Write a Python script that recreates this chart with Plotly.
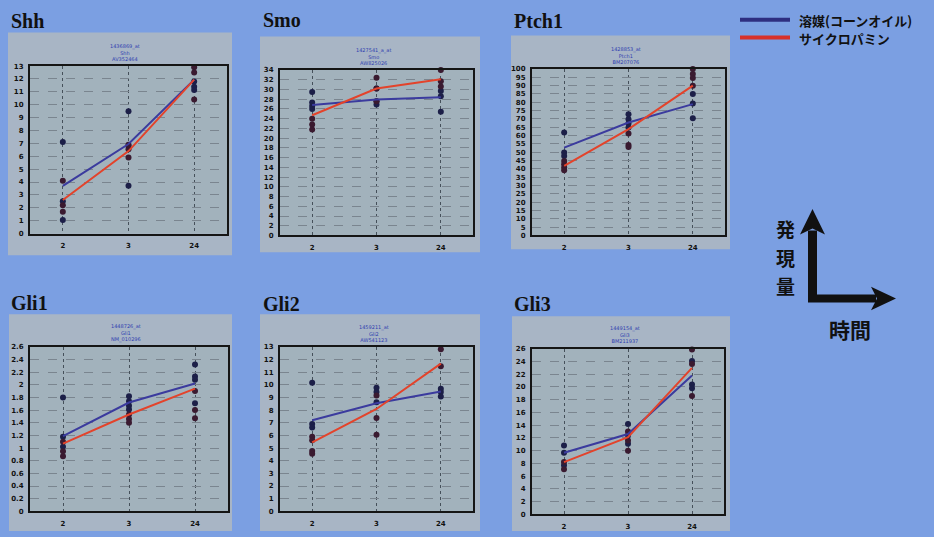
import plotly.graph_objects as go

W, H = 934, 537

# ---------------- data ----------------
TIMES = ["2", "3", "24"]

GENES = ["Shh", "Smo", "Ptch1", "Gli1", "Gli2", "Gli3"]
PROBES = [
    "1436869_at<br>Shh<br>AV352464",
    "1427541_a_at<br>Smo<br>AW825026",
    "1428853_at<br>Ptch1<br>BM207076",
    "1448726_at<br>Gli1<br>NM_010296",
    "1459211_at<br>Gli2<br>AW541123",
    "1449154_at<br>Gli3<br>BM211937",
]

# group means (lines)
SHH_VEH = [3.7, 6.95, 11.95]
SHH_CYC = [2.6, 6.4, 11.95]
SMO_VEH = [26.8, 27.95, 28.4]
SMO_CYC = [24.7, 30.2, 32.1]
PTCH1_VEH = [52.8, 67.9, 78.9]
PTCH1_CYC = [41.8, 63.9, 90.0]
GLI1_VEH = [1.19, 1.72, 2.02]
GLI1_CYC = [1.07, 1.53, 1.94]
GLI2_VEH = [7.2, 8.54, 9.47]
GLI2_CYC = [5.44, 8.09, 11.67]
GLI3_VEH = [9.67, 12.6, 21.8]
GLI3_CYC = [8.2, 12.1, 23.0]

# individual samples, one list per time point
SHH_VEH_PTS = [[7.1, 2.5, 1.05], [9.5, 6.8, 3.7], [13.2, 11.4, 11.15, 11.8]]
SHH_CYC_PTS = [[4.1, 2.2, 1.7], [6.55, 5.9, 6.9], [12.9, 12.5, 10.4]]
SMO_VEH_PTS = [[29.5, 26.6, 26.0, 27.3], [27.6, 26.9, 30.2], [28.6, 25.4, 29.7]]
SMO_CYC_PTS = [[24.0, 22.8, 21.8], [32.4, 30.2, 27.6], [34.0, 31.7, 30.6]]
PTCH1_VEH_PTS = [[61.8, 49.8, 47.8], [72.9, 69.9, 67.3, 64.9], [85.0, 79.3, 70.5]]
PTCH1_CYC_PTS = [[44.8, 42.8, 40.8, 39.2], [61.2, 54.4, 53.2], [100.0, 97.0, 94.6, 90.0]]
GLI1_VEH_PTS = [[1.80, 1.18, 1.02], [1.82, 1.74, 1.67, 1.61], [2.32, 2.13, 2.08, 1.71]]
GLI1_CYC_PTS = [[1.10, 0.95, 0.87], [1.53, 1.46, 1.40], [2.63, 1.90, 1.60, 1.47]]
GLI2_VEH_PTS = [[10.16, 6.9, 6.63], [9.76, 9.42, 8.62], [9.68, 9.42, 9.07]]
GLI2_CYC_PTS = [[5.89, 5.62, 4.77, 4.56], [9.15, 7.37, 6.05], [13.05, 12.8, 11.46]]
GLI3_VEH_PTS = [[10.8, 9.67, 7.7], [14.2, 12.4, 11.1], [24.1, 20.4, 19.8]]
GLI3_CYC_PTS = [[8.2, 7.07], [13.0, 11.6, 10.0], [25.9, 23.6, 18.6]]

Y_MAX = [13, 34, 100, 2.6, 13, 26]
Y_STEP = [1, 2, 5, 0.2, 1, 2]

LEGEND_VEH = "溶媒(コーンオイル)"
LEGEND_CYC = "サイクロパミン"
AXIS_Y_LABEL = ["発", "現", "量"]
AXIS_X_LABEL = "時間"

VEH_LINES = [SHH_VEH, SMO_VEH, PTCH1_VEH, GLI1_VEH, GLI2_VEH, GLI3_VEH]
CYC_LINES = [SHH_CYC, SMO_CYC, PTCH1_CYC, GLI1_CYC, GLI2_CYC, GLI3_CYC]
VEH_PTS = [SHH_VEH_PTS, SMO_VEH_PTS, PTCH1_VEH_PTS, GLI1_VEH_PTS, GLI2_VEH_PTS, GLI3_VEH_PTS]
CYC_PTS = [SHH_CYC_PTS, SMO_CYC_PTS, PTCH1_CYC_PTS, GLI1_CYC_PTS, GLI2_CYC_PTS, GLI3_CYC_PTS]

# ---------------- layout (pixels) ----------------
PLOT_BOX = [(30, 63, 227, 233), (280, 67, 473, 235), (532, 66, 725, 235),
            (30, 348, 228, 515), (280, 348, 473, 515), (532, 350, 724, 518)]
PANEL_BOX = [(8, 29, 232, 255), (260, 33, 480, 252), (511, 32, 730, 249),
             (9, 315, 232, 535), (260, 315, 480, 535), (512, 317, 730, 535)]
TITLE_POS = [(9, 17), (261, 16), (512, 17), (9, 304), (261, 305), (512, 305)]

BG = "#7b9fe2"
PANEL_BG = "#a8b5c5"
PLOT_BG = "#a2b2bc"
BLUE = "#3b3b9e"
RED = "#e3432b"
DOT_VEH = "#1c1f48"
DOT_CYC = "#3a1a30"


def px(x):
    return x / W


def py(y):
    return 1 - y / H


fig = go.Figure()
shapes = []
annotations = []

for i in range(6):
    n = i + 1
    xa = "x" if n == 1 else f"x{n}"
    ya = "y" if n == 1 else f"y{n}"
    x0, y0, x1, y1 = PLOT_BOX[i]
    bx0, by0, bx1, by1 = PANEL_BOX[i]

    shapes.append(dict(type="rect", xref="paper", yref="paper", layer="below",
                       x0=px(bx0), x1=px(bx1), y0=py(by1), y1=py(by0),
                       fillcolor=PANEL_BG, line=dict(width=0)))
    shapes.append(dict(type="rect", xref="paper", yref="paper", layer="below",
                       x0=px(x0), x1=px(x1), y0=py(y1), y1=py(y0),
                       fillcolor=PLOT_BG, line=dict(width=0)))

    # sample points
    for pts, col in ((VEH_PTS[i], DOT_VEH), (CYC_PTS[i], DOT_CYC)):
        xs, ys = [], []
        for t, vals in zip(TIMES, pts):
            for v in vals:
                xs.append(t)
                ys.append(v)
        fig.add_trace(go.Scatter(x=xs, y=ys, mode="markers", xaxis=xa, yaxis=ya,
                                 marker=dict(color=col, size=6, symbol="circle"),
                                 cliponaxis=False, showlegend=False, hoverinfo="skip"))
    # mean lines
    fig.add_trace(go.Scatter(x=TIMES, y=VEH_LINES[i], mode="lines", xaxis=xa, yaxis=ya,
                             line=dict(color=BLUE, width=2), cliponaxis=False,
                             showlegend=False))
    fig.add_trace(go.Scatter(x=TIMES, y=CYC_LINES[i], mode="lines", xaxis=xa, yaxis=ya,
                             line=dict(color=RED, width=2), cliponaxis=False,
                             showlegend=False))

    axis_common = dict(showline=True, mirror=True, linecolor="#151515", linewidth=2,
                       showgrid=True, gridcolor="#7a858f", griddash="dash", gridwidth=1,
                       zeroline=False, ticks="",
                       tickfont=dict(family="DejaVu Sans", size=7, color="#111", weight="bold"))
    fig.update_layout(**{
        ("xaxis" if n == 1 else f"xaxis{n}"): dict(
            axis_common, domain=[px(x0), px(x1)], anchor=ya, type="category",
            categoryorder="array", categoryarray=TIMES, range=[-0.5, 2.5], ticklabelstandoff=4,
            griddash="dot", gridcolor="#45505a"),
        ("yaxis" if n == 1 else f"yaxis{n}"): dict(
            axis_common, domain=[py(y1), py(y0)], anchor=xa, range=[0, Y_MAX[i]],
            dtick=Y_STEP[i], tick0=0, ticklabelstandoff=3),
    })

    # gene title
    tx, ty = TITLE_POS[i]
    annotations.append(dict(text=f"<b>{GENES[i]}</b>", xref="paper", yref="paper",
                            x=px(tx), y=py(ty), xanchor="left", yanchor="middle",
                            showarrow=False,
                            font=dict(family="Liberation Serif", size=20, color="#111")))
    # probe label
    annotations.append(dict(text=PROBES[i], xref="paper", yref="paper",
                            x=px((x0 + x1) / 2 - 3), y=py(y0 - 14), xanchor="center",
                            yanchor="middle", showarrow=False, align="center",
                            font=dict(family="DejaVu Sans", size=5, color="#3040b0")))

# legend (drawn)
shapes.append(dict(type="line", xref="paper", yref="paper", x0=px(740), x1=px(790),
                   y0=py(16), y1=py(16), line=dict(color="#2e2e80", width=4)))
shapes.append(dict(type="line", xref="paper", yref="paper", x0=px(740), x1=px(790),
                   y0=py(34), y1=py(34), line=dict(color="#d8302a", width=4)))
annotations.append(dict(text=f"<b>{LEGEND_VEH}</b>", xref="paper", yref="paper",
                        x=px(797), y=py(17), xanchor="left", yanchor="middle", showarrow=False,
                        font=dict(family="Noto Sans CJK JP", size=13, color="#111")))
annotations.append(dict(text=f"<b>{LEGEND_CYC}</b>", xref="paper", yref="paper",
                        x=px(797), y=py(35), xanchor="left", yanchor="middle", showarrow=False,
                        font=dict(family="Noto Sans CJK JP", size=13, color="#111")))

# axis-meaning arrows
def P(x, y):
    return f"{px(x):.5f},{py(y):.5f}"

shapes.append(dict(type="path", xref="paper", yref="paper", fillcolor="#111", line=dict(width=0),
                   path=f"M{P(808,230)} L{P(817,230)} L{P(817,295)} L{P(876,295)} "
                        f"L{P(876,303)} L{P(808,303)} Z"))
shapes.append(dict(type="path", xref="paper", yref="paper", fillcolor="#111", line=dict(width=0),
                   path=f"M{P(812.5,208)} L{P(825,234)} L{P(812.5,228)} L{P(800,234)} Z"))
shapes.append(dict(type="path", xref="paper", yref="paper", fillcolor="#111", line=dict(width=0),
                   path=f"M{P(896,299)} L{P(871,287)} L{P(877,299)} L{P(871,311)} Z"))
for ch, yy in zip(AXIS_Y_LABEL, [228, 257, 286]):
    annotations.append(dict(text=f"<b>{ch}</b>", xref="paper", yref="paper", x=px(785), y=py(yy),
                            xanchor="center", yanchor="middle", showarrow=False,
                            font=dict(family="Noto Sans CJK JP", size=19, color="#111")))
annotations.append(dict(text=f"<b>{AXIS_X_LABEL}</b>", xref="paper", yref="paper",
                        x=px(850), y=py(330), xanchor="center", yanchor="middle",
                        showarrow=False,
                        font=dict(family="Noto Sans CJK JP", size=21, color="#111")))

fig.update_layout(width=W, height=H, margin=dict(l=0, r=0, t=0, b=0),
                  paper_bgcolor=BG, plot_bgcolor="rgba(0,0,0,0)",
                  shapes=shapes, annotations=annotations, showlegend=False)

fig.write_html("out.html", config={"displayModeBar": False},
               post_script="document.body.style.margin='0';document.body.style.background='" + BG + "';")
